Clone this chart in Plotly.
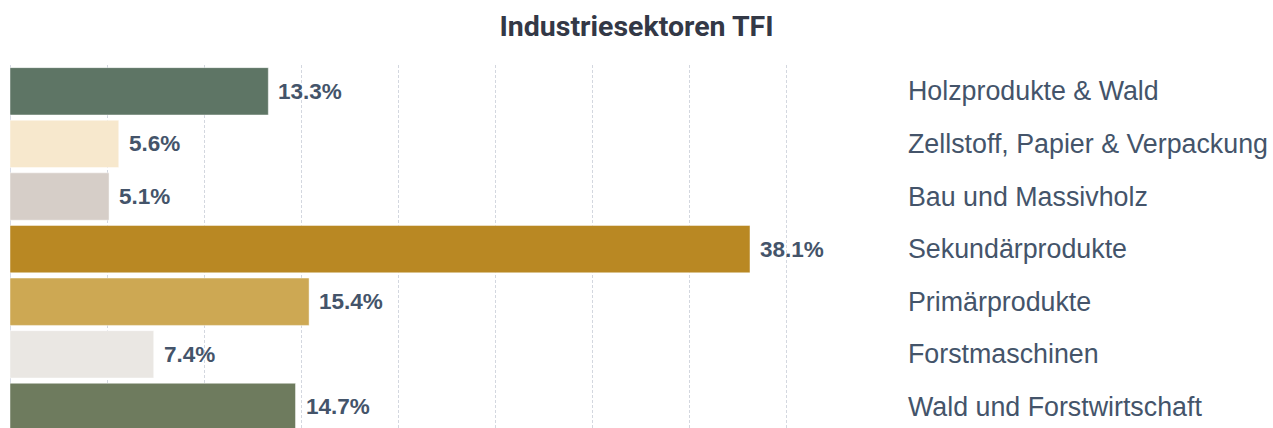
import plotly.graph_objects as go

categories = ["Holzprodukte & Wald", "Zellstoff, Papier & Verpackung", "Bau und Massivholz",
              "Sekundärprodukte", "Primärprodukte", "Forstmaschinen", "Wald und Forstwirtschaft"]
values = [13.3, 5.6, 5.1, 38.1, 15.4, 7.4, 14.7]
colors = ["#5E7565", "#F7E8CD", "#D6CEC8", "#B98823", "#CDA853", "#EAE7E3", "#6E7B5E"]
value_labels = [f"{v:.1f}%" for v in values]
title_text = "Industriesektoren TFI"
x_ticks = [0, 5, 10, 15, 20, 25, 30, 35, 40, 45]

fig = go.Figure()
fig.add_trace(go.Bar(
    x=values, y=categories, orientation="h",
    marker=dict(color=colors, line=dict(color="rgba(255,255,255,0.45)", width=1)),
    hoverinfo="skip", showlegend=False,
))

for c, v, t in zip(categories, values, value_labels):
    fig.add_annotation(x=v, y=c, xref="x", yref="y", text=t, showarrow=False,
                       xanchor="left", yanchor="middle", xshift=8,
                       font=dict(family="Liberation Sans, Arial", size=22.5, color="#44546A", weight="bold"))
    fig.add_annotation(x=1, y=c, xref="paper", yref="y", text=c, showarrow=False,
                       xanchor="left", yanchor="middle", xshift=22,
                       font=dict(family="Liberation Sans, Arial", size=26.8, color="#44546A"))

fig.update_layout(
    width=1273, height=428,
    margin=dict(l=10, r=389, t=65, b=0),
    paper_bgcolor="white", plot_bgcolor="white",
    bargap=0.1,
    title=dict(text=title_text, x=0.5, xref="container", xanchor="center",
               y=1 - 26 / 428, yref="container", yanchor="middle",
               font=dict(family="Roboto, Arial", size=28.5, color="#333846", weight="bold")),
    xaxis=dict(range=[0, 45], tickvals=x_ticks, showticklabels=False, showgrid=True,
               gridcolor="#D3D7DF", griddash="3px,2px", gridwidth=1, zeroline=True,
               zerolinecolor="#D8DCE6", zerolinewidth=1, showline=False, fixedrange=True),
    yaxis=dict(categoryorder="array", categoryarray=categories, range=[6.4, -0.5],
               showticklabels=False, showgrid=False, zeroline=False, showline=False, fixedrange=True),
)

fig.write_html("out.html")
